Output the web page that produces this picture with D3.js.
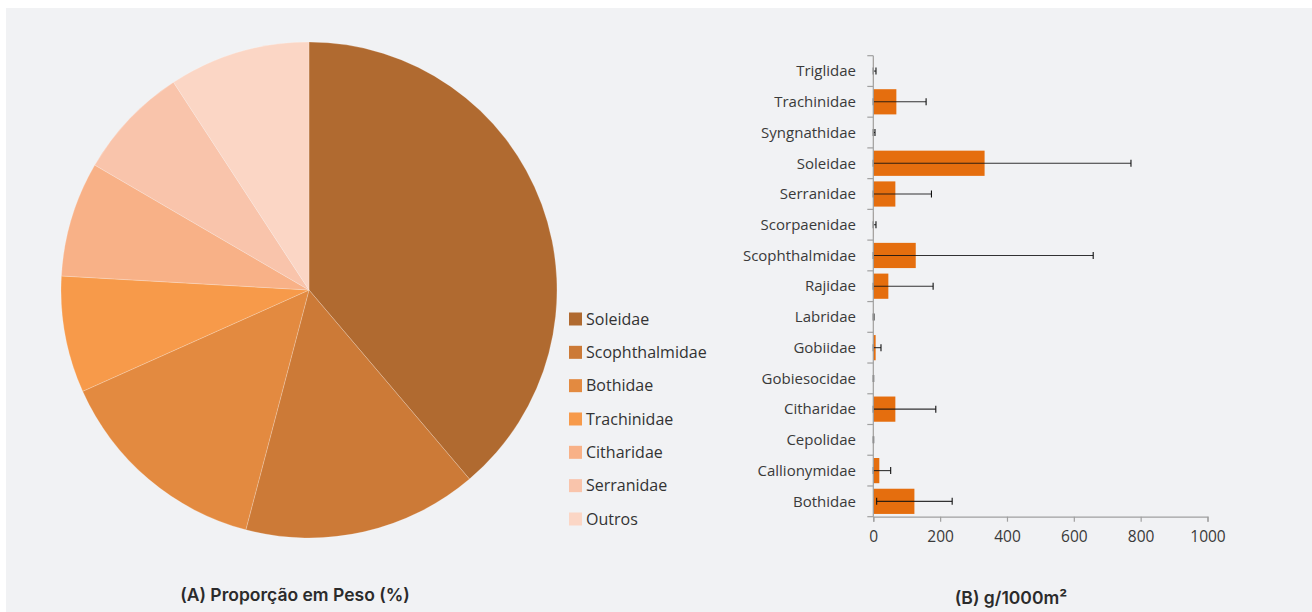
<!DOCTYPE html>
<html>
<head>
<meta charset="utf-8">
<script src="https://cdn.jsdelivr.net/npm/d3@7"></script>
<style>
  html, body { margin: 0; padding: 0; background: #ffffff; }
  svg { display: block; }
</style>
</head>
<body>
<svg id="chart" width="1312" height="612"></svg>
<script>
// (A) weight share by family (%)
const pieFamilies = ["Soleidae", "Scophthalmidae", "Bothidae", "Trachinidae", "Citharidae", "Serranidae", "Outros"];
const pieShares = [38.8, 15.3, 14.2, 7.6, 7.5, 7.4, 9.2];
const pieColors = ["#b06a30", "#cc7a37", "#e38a40", "#f79a4a", "#f8b187", "#f9c4ab", "#fbd6c5"];

// (B) biomass g/1000m2, mean and standard deviation
const barFamilies = ["Triglidae", "Trachinidae", "Syngnathidae", "Soleidae", "Serranidae", "Scorpaenidae",
  "Scophthalmidae", "Rajidae", "Labridae", "Gobiidae", "Gobiesocidae", "Citharidae", "Cepolidae",
  "Callionymidae", "Bothidae"];
const barMeans = [1, 69, 0.5, 333, 66, 1, 127, 45, 0.5, 7, 0.5, 66, 0.5, 18, 123];
const barSD = [7, 89, 4.5, 438, 108, 7, 531, 134, 1.5, 16, 0.5, 121, 0.5, 34, 113];
const xTicks = [0, 200, 400, 600, 800, 1000];

const captionA = "(A) Proporção em Peso (%)";
const captionB = "(B) g/1000m²";

const svg = d3.select("#chart");
const labelFont = "'Open Sans', 'Noto Sans', sans-serif";

// panel background
svg.append("rect").attr("x", 6).attr("y", 8).attr("width", 1306).attr("height", 604).attr("fill", "#f1f2f4");

// ---------- pie ----------
const pieData = pieFamilies.map((f, i) => ({ family: f, value: pieShares[i], color: pieColors[i] }));
const pie = d3.pie().value(d => d.value).sort(null);
const arc = d3.arc().innerRadius(0).outerRadius(248);
const pieG = svg.append("g").attr("transform", "translate(309,290)");
pieG.selectAll("path").data(pie(pieData)).join("path")
  .attr("d", arc)
  .attr("fill", d => d.data.color)
  .attr("stroke", "rgba(255,255,255,0.35)")
  .attr("stroke-width", 0.6);

// legend
const legend = svg.append("g").attr("transform", "translate(569,319)");
const legRows = legend.selectAll("g").data(pieData).join("g")
  .attr("transform", (d, i) => `translate(0,${i * 33.33})`);
legRows.append("rect").attr("x", 0).attr("y", -6.5).attr("width", 13).attr("height", 13).attr("fill", d => d.color);
legRows.append("text").attr("x", 17).attr("y", 0).attr("dy", "0.35em")
  .attr("font-family", labelFont).attr("font-size", 16).attr("fill", "#333")
  .text(d => d.family);

// ---------- horizontal bars ----------
const x = d3.scaleLinear().domain([0, 1000]).range([873.3, 1207.5]);
const y = d3.scaleBand().domain(barFamilies).range([55.7, 516.7]).paddingInner(0.18).paddingOuter(0.09);
const step = y.step();
const axisColor = "#a0a0a0";

const barsData = barFamilies.map((f, i) => ({ family: f, mean: barMeans[i], sd: barSD[i] }));
const barG = svg.append("g");
barG.selectAll("rect").data(barsData).join("rect")
  .attr("x", x(0))
  .attr("y", d => y(d.family))
  .attr("width", d => x(d.mean) - x(0))
  .attr("height", y.bandwidth())
  .attr("fill", "#e56e0e");

// error bars
const errG = svg.append("g").attr("stroke", "#111").attr("stroke-width", 1.1);
barsData.forEach(d => {
  const cy = y(d.family) + y.bandwidth() / 2;
  const lo = Math.max(0, d.mean - d.sd), hi = d.mean + d.sd;
  errG.append("line").attr("x1", x(lo)).attr("x2", x(hi)).attr("y1", cy).attr("y2", cy).attr("stroke-opacity", 0.85);
  errG.append("line").attr("x1", x(hi)).attr("x2", x(hi)).attr("y1", cy - 3.5).attr("y2", cy + 3.5);
  errG.append("line").attr("x1", x(lo)).attr("x2", x(lo)).attr("y1", cy - 3.5).attr("y2", cy + 3.5);
});

// y axis: line, boundary ticks, labels
const yAxisG = svg.append("g");
yAxisG.append("line").attr("x1", x(0)).attr("x2", x(0)).attr("y1", 55.7).attr("y2", 516.7)
  .attr("stroke", axisColor).attr("stroke-width", 1.2);
d3.range(barFamilies.length + 1).forEach(i => {
  const yy = 55.7 + i * step;
  yAxisG.append("line").attr("x1", x(0) - 6).attr("x2", x(0)).attr("y1", yy).attr("y2", yy)
    .attr("stroke", axisColor).attr("stroke-width", 1.2);
});
yAxisG.selectAll("text").data(barFamilies).join("text")
  .attr("x", 856).attr("y", d => y(d) + y.bandwidth() / 2).attr("dy", "0.35em")
  .attr("text-anchor", "end")
  .attr("font-family", labelFont).attr("font-size", 15).attr("fill", "#3a3a3a")
  .text(d => d);

// x axis
const xAxisG = svg.append("g").attr("transform", "translate(0,516.7)")
  .call(d3.axisBottom(x).tickValues(xTicks).tickSize(5).tickPadding(9).tickFormat(d3.format("d")));
xAxisG.select(".domain").attr("stroke", axisColor).attr("stroke-width", 1.2);
xAxisG.selectAll(".tick line").attr("stroke", axisColor).attr("stroke-width", 1.2);
xAxisG.selectAll(".tick text").attr("font-family", labelFont).attr("font-size", 15.5).attr("fill", "#3a3a3a");

// captions
svg.append("text").attr("x", 295).attr("y", 595).attr("dy", "0.35em").attr("text-anchor", "middle")
  .attr("font-family", "Inter, 'Noto Sans', sans-serif").attr("font-weight", 600).attr("font-size", 17.5)
  .attr("fill", "#2b2b2b").text(captionA);
svg.append("text").attr("x", 1011).attr("y", 598).attr("dy", "0.35em").attr("text-anchor", "middle")
  .attr("font-family", "Inter, 'Noto Sans', sans-serif").attr("font-weight", 600).attr("font-size", 17.5)
  .attr("fill", "#2b2b2b").text(captionB);
</script>
</body>
</html>
